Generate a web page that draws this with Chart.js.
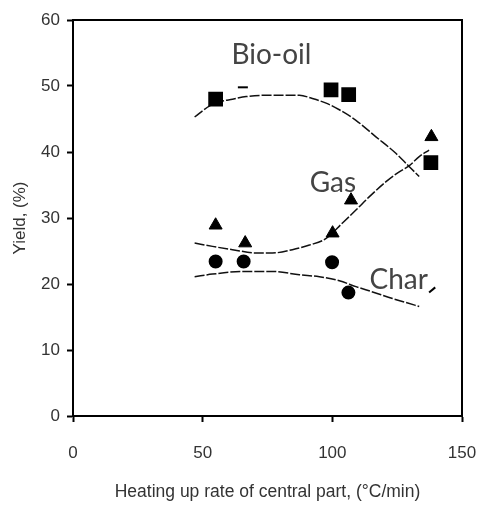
<!DOCTYPE html>
<html>
<head>
<meta charset="utf-8">
<script src="https://cdn.jsdelivr.net/npm/chart.js@4"></script>
<style>
  html, body { margin: 0; padding: 0; background: #fff; }
</style>
</head>
<body>
<canvas id="chart" width="478" height="508"></canvas>
<script>
// measured points (heating rate, yield %)
const bioOilX = [55, 65.5, 99.5, 106.3, 138];
const bioOilY = [48.0, 49.8, 49.4, 48.7, 38.4];
const gasX = [55, 66.4, 100.1, 107.2, 138.2];
const gasY = [28.9, 26.2, 27.7, 32.7, 42.3];
const charX = [55, 65.8, 99.9, 106.2, 138.5];
const charY = [23.4, 23.4, 23.3, 18.7, 19.1];

// fitted trend curves
const bioFitX = [46.9, 52.7, 56.5, 61.5, 66.8, 74.5, 87.3, 92.3, 97.6, 102.7, 109.1, 116.8, 124.5, 129.6, 133.5];
const bioFitY = [45.3, 47.0, 47.6, 48.0, 48.4, 48.6, 48.6, 48.1, 47.4, 46.4, 44.8, 42.3, 39.8, 37.8, 36.3];
const gasFitX = [46.9, 53.8, 61.5, 70.7, 76.9, 84.6, 91.2, 97.6, 103.8, 109.1, 114.2, 120.7, 125.8, 129.6, 133.5, 137.3];
const gasFitY = [26.2, 25.7, 25.2, 24.7, 24.7, 25.2, 25.9, 26.9, 29.2, 31.2, 33.2, 35.5, 37.0, 37.9, 39.3, 40.3];
const charFitX = [46.9, 53.8, 65.5, 77.0, 87.3, 95.0, 102.7, 109.1, 115.5, 123.2, 128.3, 133.5];
const charFitY = [21.1, 21.5, 21.9, 21.9, 21.4, 21.1, 20.5, 19.6, 18.8, 17.8, 17.2, 16.6];

// curve labels
const curveLabels = ['Bio-oil', 'Gas', 'Char'];
const curveLabelX = [76.5, 100.2, 125.6];
const curveLabelY = [54.7, 35.3, 20.6];

const xTicks = [0, 50, 100, 150];
const yTicks = [0, 10, 20, 30, 40, 50, 60];

const pts = (xs, ys) => xs.map((v, i) => ({ x: v, y: ys[i] }));

function fitLine(xs, ys) {
    return {
        type: 'line',
        data: pts(xs, ys),
        borderColor: '#111',
        borderWidth: 1.5,
        borderDash: [10, 2],
        pointRadius: 0,
        cubicInterpolationMode: 'monotone',
        fill: false,
        order: 2
    };
}

const extras = {
    id: 'extras',
    beforeDatasetsDraw(chart) {
        const { ctx, chartArea: a } = chart;
        ctx.save();
        ctx.strokeStyle = '#000';
        ctx.lineWidth = 2;
        ctx.beginPath();
        ctx.moveTo(a.left, a.top);
        ctx.lineTo(a.right, a.top);
        ctx.lineTo(a.right, a.bottom);
        ctx.stroke();
        ctx.restore();
    },
    afterDatasetsDraw(chart) {
        const { ctx, scales: { x, y } } = chart;
        ctx.save();
        ctx.font = '28px Lato';
        ctx.fillStyle = '#444';
        ctx.textAlign = 'center';
        ctx.textBaseline = 'middle';
        curveLabels.forEach((t, i) => {
            ctx.fillText(t, x.getPixelForValue(curveLabelX[i]), y.getPixelForValue(curveLabelY[i]));
        });
        ctx.restore();
    }
};

const ctx = document.getElementById('chart').getContext('2d');
new Chart(ctx, {
    type: 'scatter',
    data: {
        datasets: [
            fitLine(bioFitX, bioFitY),
            fitLine(gasFitX, gasFitY),
            fitLine(charFitX, charFitY),
            {
                label: 'Bio-oil',
                data: pts(bioOilX, bioOilY),
                pointStyle: ['rect', 'line', 'rect', 'rect', 'rect'],
                pointRadius: [9, 5, 9, 9, 9],
                borderWidth: 2,
                backgroundColor: '#000',
                borderColor: '#000',
                order: 1
            },
            {
                label: 'Gas',
                data: pts(gasX, gasY),
                pointStyle: 'triangle',
                pointRadius: 7.5,
                backgroundColor: '#000',
                borderColor: '#000',
                order: 1
            },
            {
                label: 'Char',
                data: pts(charX, charY),
                pointStyle: ['circle', 'circle', 'circle', 'circle', 'line'],
                pointRadius: [6, 6, 6, 6, 4],
                pointRotation: [0, 0, 0, 0, -40],
                borderWidth: 2,
                backgroundColor: '#000',
                borderColor: '#000',
                order: 1
            }
        ]
    },
    options: {
        responsive: false,
        animation: false,
        layout: { padding: { top: 20, right: 16, left: 0, bottom: 0 } },
        plugins: {
            legend: { display: false },
            tooltip: { enabled: false }
        },
        scales: {
            x: {
                type: 'linear',
                min: 0,
                max: 150,
                afterBuildTicks: s => { s.ticks = xTicks.map(v => ({ value: v })); },
                afterFit: s => { s.height = 92; s.paddingLeft = 0; s.paddingRight = 0; },
                border: { color: '#000', width: 2 },
                grid: { drawOnChartArea: false, drawTicks: true, tickLength: 6, tickColor: '#000', tickWidth: 2 },
                ticks: { color: '#333', padding: 21, maxRotation: 0, font: { family: 'Liberation Sans', size: 17 } },
                title: {
                    display: true,
                    text: 'Heating up rate of central part, (°C/min)',
                    color: '#333',
                    font: { family: 'Liberation Sans', size: 17.5 },
                    padding: { top: 0, bottom: 5 }
                }
            },
            y: {
                type: 'linear',
                min: 0,
                max: 60,
                afterBuildTicks: s => { s.ticks = yTicks.map(v => ({ value: v })); },
                afterFit: s => { s.width = 73; s.paddingTop = 0; s.paddingBottom = 0; },
                border: { color: '#000', width: 2 },
                grid: { drawOnChartArea: false, drawTicks: true, tickLength: 6, tickColor: '#000', tickWidth: 2 },
                ticks: { color: '#333', padding: 7, font: { family: 'Liberation Sans', size: 17 } },
                title: {
                    display: true,
                    text: 'Yield, (%)',
                    color: '#333',
                    font: { family: 'Liberation Sans', size: 17 },
                    padding: { top: 10, bottom: 0 }
                }
            }
        }
    },
    plugins: [extras]
});
</script>
</body>
</html>
